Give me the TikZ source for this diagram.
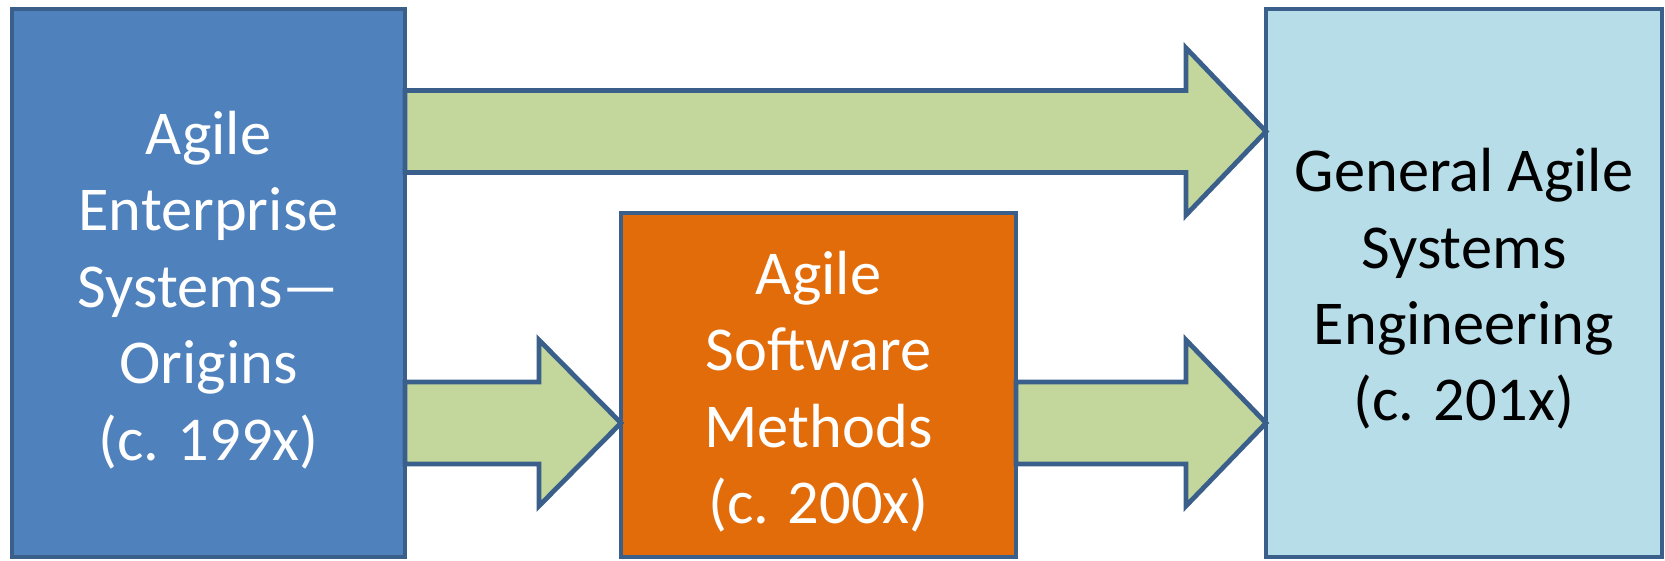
\documentclass[tikz,border=0pt]{standalone}
\usepackage{fontspec}
\setmainfont{Carlito}
\usetikzlibrary{calc}
\definecolor{boxblue}{HTML}{4F81BD}
\definecolor{edgeblue}{HTML}{3A5F8B}
\definecolor{orangefill}{HTML}{E36C0A}
\definecolor{lightfill}{HTML}{B7DDE8}
\definecolor{greenfill}{HTML}{C3D69B}
\begin{document}
\begin{tikzpicture}[x=0.5pt,y=-0.5pt,
  box/.style={draw=edgeblue, line width=2.4pt, outer sep=0pt, inner sep=0pt},
  boxtext/.style={inner sep=0pt, align=center, font=\fontsize{31.2pt}{38.2pt}\selectfont},
  blockarrow/.style={draw=edgeblue, fill=greenfill, line width=2.4pt, line join=miter}]
\useasboundingbox (0,0) rectangle (1665,561);
\node[box, fill=boxblue, minimum width=196.5pt, minimum height=274pt] (origins) at (208.5,283) {};
\node[box, fill=orangefill, minimum width=197.5pt, minimum height=172pt] (software) at (818.5,385) {};
\node[box, fill=lightfill, minimum width=198pt, minimum height=274pt] (general) at (1464,283) {};
\node[boxtext, text=white] (originstext) at ($(origins.center)+(0,7)$)
  {Agile\\Enterprise\\Systems—\\Origins\\(c. 199x)};
\node[boxtext, text=white] (softwaretext) at ($(software.center)+(0,6.5)$)
  {Agile\\Software\\Methods\\(c. 200x)};
\node[boxtext, text=black] (generaltext) at ($(general.center)+(0,6)$)
  {General Agile\\Systems\\Engineering\\(c. 201x)};
% top arrow
\draw[blockarrow] (origins.east |- 0,90.5) -- (1186,90.5) -- (1186,48) -- (general.west |- 0,131.5)
  -- (1186,215) -- (1186,172.5) -- (origins.east |- 0,172.5) -- cycle;
% lower left arrow
\draw[blockarrow] (origins.east |- 0,382) -- (539,382) -- (539,340) -- (software.west |- 0,423)
  -- (539,506) -- (539,464) -- (origins.east |- 0,464) -- cycle;
% lower right arrow
\draw[blockarrow] (software.east |- 0,382) -- (1186,382) -- (1186,340) -- (general.west |- 0,423)
  -- (1186,506) -- (1186,464) -- (software.east |- 0,464) -- cycle;
\end{tikzpicture}
\end{document}
